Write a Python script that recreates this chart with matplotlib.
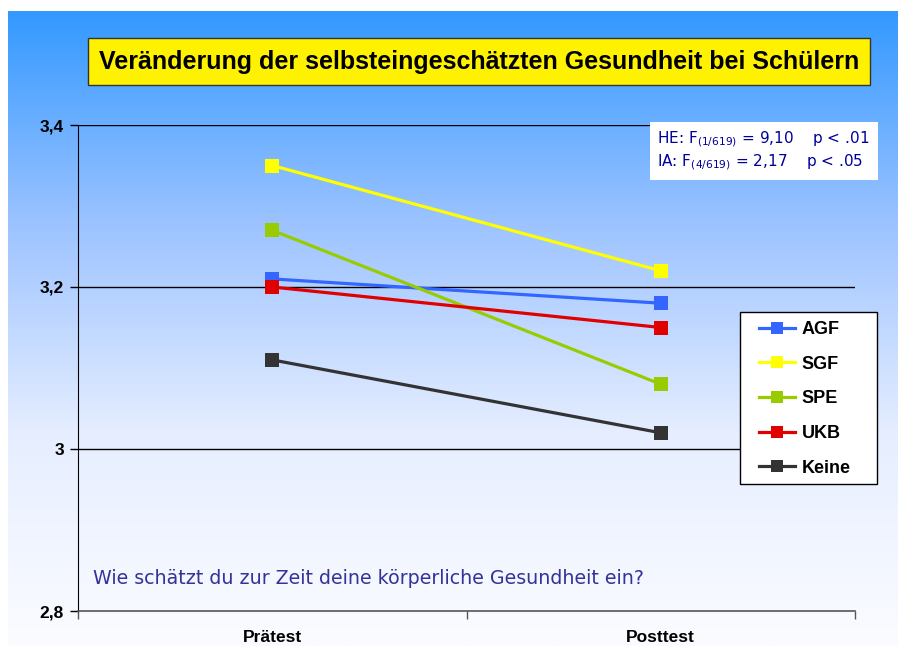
import numpy as np
import matplotlib
matplotlib.use("Agg")
import matplotlib.pyplot as plt
from matplotlib.colors import LinearSegmentedColormap
from matplotlib.patches import Rectangle

categories = ["Prätest", "Posttest"]
series_names = ["AGF", "SGF", "SPE", "UKB", "Keine"]
agf = [3.21, 3.18]
sgf = [3.35, 3.22]
spe = [3.27, 3.08]
ukb = [3.20, 3.15]
keine = [3.11, 3.02]
yticks = [2.8, 3.0, 3.2, 3.4]
ytick_labels = ["2,8", "3", "3,2", "3,4"]

colors = ["#3366FF", "#FFFF00", "#99CC00", "#E00000", "#333333"]
values = [agf, sgf, spe, ukb, keine]

W, H = 898, 646
fig = plt.figure(figsize=(W / 100, H / 100), dpi=100)
fig.patch.set_facecolor("white")

# gradient background
bg = fig.add_axes([8 / W, 0, 1 - 8 / W, (H - 11) / H], zorder=0)
cmap = LinearSegmentedColormap.from_list("bg", ["#3399FF", "#9CC3FF", "#E6EEFF", "#FBFCFF"])
grad = np.linspace(0, 1, 256).reshape(-1, 1)
bg.imshow(grad, aspect="auto", cmap=cmap, extent=[0, 1, 0, 1], origin="upper")
bg.set_axis_off()

ax = fig.add_axes([78 / W, (H - 611) / H, (855 - 78) / W, (611 - 125) / H], zorder=1)
ax.patch.set_alpha(0)

x = np.arange(len(categories))
for name, vals, c in zip(series_names, values, colors):
    ax.plot(x, vals, color=c, lw=2.3, marker="s", markersize=10, label=name,
            markeredgewidth=0, zorder=3)

ax.set_xlim(-0.5, 1.5)
ax.set_ylim(2.8, 3.4)
ax.set_yticks(yticks)
ax.set_yticklabels(ytick_labels, fontsize=12.5, fontweight="bold", family="Liberation Sans")
ax.set_xticks(x)
ax.set_xticklabels(categories, fontsize=12.5, fontweight="bold", family="Liberation Sans")
ax.tick_params(axis="x", length=0, pad=14)
ax.tick_params(axis="y", length=6, width=1, color="black", pad=4)
ax.set_xticks([-0.5, 0.5, 1.5], minor=True)
ax.tick_params(axis="x", which="minor", length=6, width=1, color="#555555")
for yv in [3.0, 3.2, 3.4]:
    ax.axhline(yv, color="black", lw=1, zorder=1)
for s in ["top", "right"]:
    ax.spines[s].set_visible(False)
ax.spines["left"].set_color("black")
ax.spines["bottom"].set_color("#555555")
ax.spines["bottom"].set_linewidth(1.2)

# legend box + entries
fig.add_artist(Rectangle((740 / W, 1 - 484 / H), (877 - 740) / W, (484 - 312) / H,
                         transform=fig.transFigure, facecolor="white",
                         edgecolor="black", lw=1, zorder=4))
handles, labels = ax.get_legend_handles_labels()
leg = fig.legend(handles, labels, loc="upper left", bbox_to_anchor=(759 / W, (H - 321) / H),
                 bbox_transform=fig.transFigure, frameon=False,
                 prop={"family": "Liberation Sans", "weight": "bold", "size": 13},
                 labelspacing=0.98, handlelength=2.0, borderpad=0, handletextpad=0.35,
                 borderaxespad=0, markerscale=0.85)
leg.set_zorder(6)

# title
fig.add_artist(Rectangle((88 / W, 1 - 85 / H), (870 - 88) / W, 47 / H,
                         transform=fig.transFigure, facecolor="#FFF200",
                         edgecolor="#333333", lw=1, zorder=4))
fig.text((88 + 870) / 2 / W, 1 - 62 / H,
         "Veränderung der selbsteingeschätzten Gesundheit bei Schülern",
         ha="center", va="center", fontsize=18, fontweight="bold",
         family="Liberation Sans", color="black", zorder=5)

# stats box
fig.add_artist(Rectangle((650 / W, 1 - 180 / H), (878 - 650) / W, 58 / H,
                         transform=fig.transFigure, facecolor="white",
                         edgecolor="none", zorder=4))
fig.text(657 / W, 1 - 139 / H, r"HE: F$_{(1/619)}$ = 9,10    p < .01",
         ha="left", va="center", fontsize=11, color="#000099",
         family="DejaVu Sans", zorder=5)
fig.text(657 / W, 1 - 162 / H, r"IA: F$_{(4/619)}$ = 2,17    p < .05",
         ha="left", va="center", fontsize=11, color="#000099",
         family="DejaVu Sans", zorder=5)

# question
fig.text(93 / W, 1 - 579 / H, "Wie schätzt du zur Zeit deine körperliche Gesundheit ein?",
         ha="left", va="center", fontsize=13.7,
         color="#333399", family="DejaVu Sans", zorder=5)

fig.savefig("out.png", dpi=100)
